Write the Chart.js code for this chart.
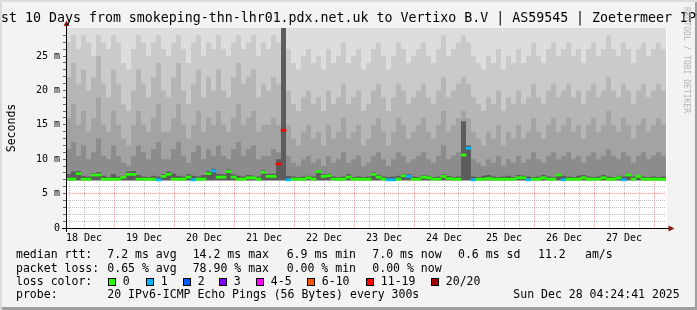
<!DOCTYPE html>
<html>
<head>
<meta charset="utf-8">
<script src="https://cdn.jsdelivr.net/npm/chart.js@4.4.0/dist/chart.umd.min.js"></script>
<style>
html,body{margin:0;padding:0;background:#f3f3f3;}
body{width:697px;height:310px;overflow:hidden;}
#wrap{position:relative;width:697px;height:310px;background:#f3f3f3;overflow:hidden;
  box-shadow:inset 2px 2px 0 #dcdcdc, inset -2px -3px 0 #9f9f9f;}
#c{position:absolute;left:0;top:0;}
.t{position:absolute;font-family:'DejaVu Sans Mono',monospace;white-space:pre;color:#000;font-size:11.53px;line-height:14px;}
#title{position:absolute;left:-200px;width:1097px;top:10.4px;text-align:center;font-family:'DejaVu Sans Mono',monospace;font-size:13.27px;line-height:16px;white-space:pre;color:#000;}
#ylab{position:absolute;left:-39.3px;top:119.5px;width:100px;height:16px;text-align:center;transform:rotate(-90deg);font-family:'DejaVu Sans Mono',monospace;font-size:11.53px;line-height:16px;white-space:pre;}
#wm{position:absolute;left:636px;top:52px;width:100px;height:10px;text-align:center;transform:rotate(90deg);font-family:'DejaVu Sans Mono',monospace;font-size:8px;line-height:10px;color:#b4b4b4;white-space:pre;}
.box{position:absolute;width:6px;height:6px;border:1px solid #000;top:278px;}
</style>
</head>
<body>
<div id="wrap">
<canvas id="c" width="697" height="310"></canvas>
<div id="title">Last 10 Days from smokeping-thn-lhr01.pdx.net.uk to Vertixo B.V | AS59545 | Zoetermeer IPv6</div>
<div id="ylab">Seconds</div>
<div id="wm">RRDTOOL / TOBI OETIKER</div>

<div class="t" style="left:16px;top:247.3px">median rtt:</div>
<div class="t" style="left:107.3px;top:247.3px">7.2 ms avg</div>
<div class="t" style="left:192.7px;top:247.3px">14.2 ms max</div>
<div class="t" style="left:286.7px;top:247.3px">6.9 ms min</div>
<div class="t" style="left:372.3px;top:247.3px">7.0 ms now</div>
<div class="t" style="left:458px;top:247.3px">0.6 ms sd</div>
<div class="t" style="left:538px;top:247.3px">11.2</div>
<div class="t" style="left:585px;top:247.3px">am/s</div>

<div class="t" style="left:16px;top:260.7px">packet loss:</div>
<div class="t" style="left:107.3px;top:260.7px">0.65 % avg</div>
<div class="t" style="left:192.7px;top:260.7px">78.90 % max</div>
<div class="t" style="left:286.7px;top:260.7px">0.00 % min</div>
<div class="t" style="left:372.3px;top:260.7px">0.00 % now</div>

<div class="t" style="left:16px;top:274px">loss color:</div>
<div id="lossLegend"></div>

<div class="t" style="left:16px;top:287.3px">probe:</div>
<div class="t" style="left:107.3px;top:287.3px">20 IPv6-ICMP Echo Pings (56 Bytes) every 300s</div>
<div class="t" style="left:513.3px;top:287.3px">Sun Dec 28 04:24:41 2025</div>
</div>

<script>
// ---------------- data ----------------
// x axis: hours since graph start (Dec 18 ~04:48), 10 days = 240 h
const spanHours = 240;
const colHours = 2;              // each smoke/median column = 2 h
const firstMidnight = 19.2;      // hours from start to 19 Dec 00:00
const xDayLabels = ['18 Dec','19 Dec','20 Dec','21 Dec','22 Dec','23 Dec','24 Dec','25 Dec','26 Dec','27 Dec'];
const yTickValues = [0, 5, 10, 15, 20, 25];
const yTickLabels = ['0', '5 m', '10 m', '15 m', '20 m', '25 m'];
const yMax = 29.07;

const lossLabels = ['0','1','2','3','4-5','6-10','11-19','20/20'];
const lossColors = ['#26ff00','#00b8ff','#0059ff','#7e00ff','#ff00ff','#ff5500','#ff0000','#a10000'];

// smoke layers (ms, upper edge of each shade band), outermost first
const smokeMax = [
 30,30,30,30,30,30,30,30,30,30, 30,30,30,30,30,30,30,30,30,30,
 30,30,30,30,30,30,30,30,30,30, 30,30,30,30,30,30,30,30,30,30,
 30,30,30,30,30,30,30,30,30,30, 30,30,30,30,30,30,30,30,30,30,
 30,30,30,30,30,30,30,30,30,30, 30,30,30,30,30,30,30,30,30,30,
 30,30,30,30,30,30,30,30,30,30, 30,30,30,30,30,30,30,30,30,30,
 30,30,30,30,30,30,30,30,30,30, 30,30,30,30,30,30,30,30,30,30
];
const smoke2 = [
 27,28,26,28,27,25,28,27,26,28,
 27,24,23,26,28,27,25,27,28,26,
 25,27,28,26,24,27,28,25,27,26,
 28,26,25,27,28,26,27,28,25,27,
 26,28,27,30,26,24,23,25,26,24,
 25,23,26,24,25,27,24,25,26,23,
 24,26,27,25,23,25,27,26,24,25,
 26,27,25,24,26,28,25,26,27,28,
 27,25,24,23,25,24,26,23,25,24,
 26,24,25,27,25,24,26,27,25,26,
 27,25,26,24,26,27,25,26,28,26,
 25,27,26,24,26,27,25,26,27,26
];
const smoke3 = [
 22,24,21,23,20,22,25,21,19,23,
 21,18,17,20,23,21,19,22,24,20,
 19,22,24,20,18,21,23,19,22,20,
 23,20,19,22,24,21,22,23,19,21,
 20,22,21,30,20,18,17,19,20,18,
 19,17,20,18,19,21,18,19,20,17,
 18,20,21,19,17,19,21,20,18,19,
 20,21,19,18,20,22,19,20,21,22,
 21,19,18,17,19,18,20,17,19,18,
 20,18,19,21,19,18,20,21,19,20,
 21,19,20,18,20,21,19,20,22,20,
 19,21,20,18,20,21,19,20,21,20
];
const smoke4 = [
 16,18,15,17,14,16,19,15,14,17,
 15,13,12,15,17,15,14,16,18,14,
 14,16,18,15,13,15,17,14,16,15,
 17,15,14,16,18,15,16,17,14,15,
 15,16,15,30,15,13,12,14,15,13,
 14,12,15,13,14,16,13,14,15,12,
 13,15,16,14,12,14,16,15,13,14,
 15,16,14,13,15,17,14,15,16,17,
 16,14,13,12,14,13,15,12,14,13,
 15,13,14,16,14,13,15,16,14,15,
 16,14,15,13,15,16,14,15,17,15,
 14,16,15,13,15,16,14,15,16,15
];
const smoke5 = [
 11.5,12.5,10.5,12,10,11,13,10.5,10,12,
 10.5,9.5,9,10.5,12,11,10,11.5,12.5,10,
 10,11.5,12.5,10.5,9.5,11,12,10,11.5,10.5,
 12,10.5,10,11.5,12.5,10.5,11.5,12,10,10.5,
 10.5,11.5,11,30,10.5,9.5,9,10,10.5,9.5,
 10,9,10.5,9.5,10,11,9.5,10,10.5,9,
 9.5,10.5,11,10,9,10,11,10.5,9.5,10,
 10.5,11,10,9.5,10.5,12,10,10.5,11,12,
 11,10,9.5,9,10,9.5,10.5,9,10,9.5,
 10.5,9.5,10,11,10,9.5,10.5,11,10,10.5,
 11,10,10.5,9.5,10.5,11,10,10.5,11.5,10.5,
 10,11,10.5,9.5,10.5,11,10,10.5,11,10.5
];
const smoke6 = [
 7.8,8.2,8.3,7.6,7.5,8.0,8.1,7.6,7.4,7.8,
 7.5,7.6,8.2,8.3,7.7,7.5,7.4,7.6,7.5,7.8,
 8.2,7.9,7.6,7.5,7.8,7.6,7.5,7.7,8.3,8.6,
 7.9,7.8,8.5,7.8,7.6,7.5,7.7,7.6,7.5,8.4,
 7.9,7.9,10,30,7.6,7.5,7.4,7.5,7.6,7.5,
 8.4,7.8,7.9,7.5,7.4,7.5,7.8,7.4,7.5,7.4,
 7.5,8.1,7.7,7.5,7.4,7.5,7.6,7.9,7.8,7.5,
 7.4,7.7,7.6,7.4,7.5,7.8,7.6,7.4,7.5,15.5,
 12,7.5,7.4,7.6,7.7,7.5,7.4,7.5,7.6,7.4,
 7.7,7.6,7.5,7.4,7.5,7.7,7.5,7.4,7.9,7.6,
 7.5,7.4,7.6,7.7,7.5,7.4,7.5,7.7,7.5,7.4,
 7.6,7.5,7.9,7.5,7.7,7.5,7.4,7.5,7.4,7.5
];
const smokeColors = ['#dddddd','#cacaca','#b6b6b6','#a3a3a3','#8c8c8c','#5c5c5c'];
const smokeBase = 6.95;

// median rtt (ms) and loss class per column
const medianRtt = [
 7.1,7.1,7.9,7.1,7.1,7.7,7.7,7.1,7.1,7.1,
 7.1,7.4,7.8,7.8,7.1,7.1,7.1,7.1,7.0,7.5,
 7.8,7.1,7.1,7.1,7.4,7.0,7.1,7.1,7.9,8.3,
 7.4,7.4,8.2,7.4,7.1,7.1,7.3,7.3,7.1,8.1,
 7.5,7.5,9.3,14.2,7.0,7.1,7.1,7.1,7.3,7.1,
 8.2,7.5,7.6,7.1,7.1,7.1,7.4,7.1,7.1,7.1,
 7.1,7.8,7.4,7.1,7.0,7.0,7.1,7.6,7.5,7.1,
 7.1,7.4,7.3,7.1,7.1,7.5,7.2,7.1,7.1,10.6,
 11.6,7.0,7.1,7.1,7.2,7.1,7.1,7.1,7.1,7.1,
 7.3,7.3,7.0,7.1,7.1,7.3,7.1,7.1,7.7,7.0,
 7.1,7.1,7.1,7.3,7.1,7.1,7.1,7.3,7.1,7.1,
 7.3,7.0,7.7,7.1,7.5,7.1,7.1,7.1,7.1,7.1
];
const lossClass = [
 0,0,0,0,0,0,0,0,0,0,
 0,0,0,0,0,0,0,0,1,0,
 0,0,0,0,0,1,0,0,0,1,
 0,0,0,0,0,0,0,0,0,0,
 0,0,6,6,1,0,0,0,0,0,
 0,0,0,0,0,0,0,0,0,0,
 0,0,0,0,1,1,0,0,1,0,
 0,0,0,0,0,0,0,0,0,0,
 1,1,0,0,0,0,0,0,0,0,
 0,0,1,0,0,0,0,0,0,1,
 0,0,0,0,0,0,0,0,0,0,
 0,1,0,0,0,0,0,0,0,0
];

// ---------------- loss legend (HTML text) ----------------
(function(){
  const boxX = [108, 146, 183, 219, 256, 307, 366, 431];
  const host = document.getElementById('lossLegend');
  lossLabels.forEach((lab, i) => {
    const b = document.createElement('div');
    b.className = 'box'; b.style.left = boxX[i] + 'px'; b.style.background = lossColors[i];
    host.appendChild(b);
    const t = document.createElement('div');
    t.className = 't'; t.style.left = (boxX[i] + 14.8) + 'px'; t.style.top = '274px';
    t.textContent = lab;
    host.appendChild(t);
  });
})();

// ---------------- chart ----------------
const MAJOR = 'rgba(255,70,70,0.55)';
const MINOR = 'rgba(120,120,120,0.45)';
const FONT = "'DejaVu Sans Mono', monospace";

function stepPoints(arr) {
  const pts = arr.map((v, i) => ({ x: i * colHours, y: v }));
  pts.push({ x: arr.length * colHours, y: arr[arr.length - 1] });
  return pts;
}
const isMidnight = v => Math.abs(((v - firstMidnight) / 24) - Math.round((v - firstMidnight) / 24)) < 1e-6;
const noonIndex = v => { const d = (v - (firstMidnight - 12)) / 24; return Math.abs(d - Math.round(d)) < 1e-6 ? Math.round(d) : -1; };

const smokeSets = [smokeMax, smoke2, smoke3, smoke4, smoke5, smoke6].map((arr, k) => ({
  type: 'line',
  data: stepPoints(arr),
  stepped: 'before',
  fill: { value: smokeBase },
  backgroundColor: smokeColors[k],
  borderColor: smokeColors[k],
  borderWidth: 0,
  pointRadius: 0,
  order: 10 - k
}));

const medianSet = {
  type: 'bar',
  data: medianRtt.map((m, i) => ({ x: i * colHours + colHours / 2, y: [m - 0.15, m + 0.15] })),
  backgroundColor: lossClass.map(c => lossColors[c]),
  borderWidth: 0,
  barPercentage: 1,
  categoryPercentage: 1,
  order: 0
};

const frame = {
  id: 'frame',
  beforeDraw(chart) {
    const { ctx, chartArea: a } = chart;
    ctx.save();
    ctx.fillStyle = '#ffffff';
    ctx.fillRect(a.left, a.top, a.right - a.left + 1, a.bottom - a.top);
    ctx.restore();
  },
  afterDraw(chart) {
    const { ctx, chartArea: a } = chart;
    ctx.save();
    ctx.strokeStyle = '#000'; ctx.lineWidth = 1;
    ctx.beginPath();
    ctx.moveTo(a.left - 4, a.bottom + 0.5); ctx.lineTo(a.right + 3, a.bottom + 0.5);
    ctx.moveTo(a.left + 0.5, a.bottom + 4); ctx.lineTo(a.left + 0.5, a.top - 2);
    ctx.stroke();
    ctx.fillStyle = '#8e1b1b';
    ctx.beginPath();
    ctx.moveTo(a.right + 8.5, a.bottom + 0.5); ctx.lineTo(a.right + 2.5, a.bottom - 2.5); ctx.lineTo(a.right + 2.5, a.bottom + 3.5);
    ctx.closePath(); ctx.fill();
    ctx.beginPath();
    ctx.moveTo(a.left + 0.5, a.top - 7.5); ctx.lineTo(a.left - 2.5, a.top - 2); ctx.lineTo(a.left + 3.5, a.top - 2);
    ctx.closePath(); ctx.fill();
    ctx.restore();
  }
};

new Chart(document.getElementById('c'), {
  data: { datasets: [medianSet, ...smokeSets] },
  options: {
    responsive: false,
    animation: false,
    layout: { padding: { left: 0, right: 31, top: 28, bottom: 0 } },
    plugins: { legend: { display: false }, tooltip: { enabled: false }, title: { display: false } },
    scales: {
      x: {
        type: 'linear', min: 0, max: spanHours, offset: false, z: 1,
        grid: { offset: false, color: c => (c.tick && isMidnight(c.tick.value)) ? MAJOR : MINOR,
                lineWidth: 1, drawTicks: true, tickLength: 3, tickColor: 'rgba(0,0,0,0)', borderDash: [1, 1] },
        border: { display: false, dash: [1, 1] },
        ticks: {
          autoSkip: false, maxRotation: 0, minRotation: 0, padding: 1, color: '#000',
          font: { family: FONT, size: 10 },
          callback: v => { const n = noonIndex(v); return n >= 0 && n < xDayLabels.length ? xDayLabels[n] : ''; }
        },
        afterBuildTicks: s => {
          const t = [];
          for (let k = -3; firstMidnight + 6 * k < spanHours; k++) {
            const v = firstMidnight + 6 * k;
            if (v > 0) t.push({ value: v });
          }
          s.ticks = t;
        },
        afterFit: s => { s.height = 82; }
      },
      y: {
        type: 'linear', min: 0, max: yMax, z: 1,
        grid: { color: c => (c.tick && yTickValues.includes(c.tick.value)) ? MAJOR : MINOR,
                lineWidth: 1, drawTicks: true, tickLength: 3, tickColor: '#666', borderDash: [1, 1] },
        border: { display: false, dash: [1, 1] },
        ticks: {
          autoSkip: false, padding: 3, color: '#000', font: { family: FONT, size: 10 },
          callback: v => { const i = yTickValues.indexOf(v); return i >= 0 ? yTickLabels[i] : ''; }
        },
        afterBuildTicks: s => {
          const t = [];
          for (let v = 0; v < yMax - 0.5; v++) t.push({ value: v });
          s.ticks = t;
        },
        afterFit: s => { s.width = 66; }
      }
    }
  },
  plugins: [frame]
});
</script>
</body>
</html>
